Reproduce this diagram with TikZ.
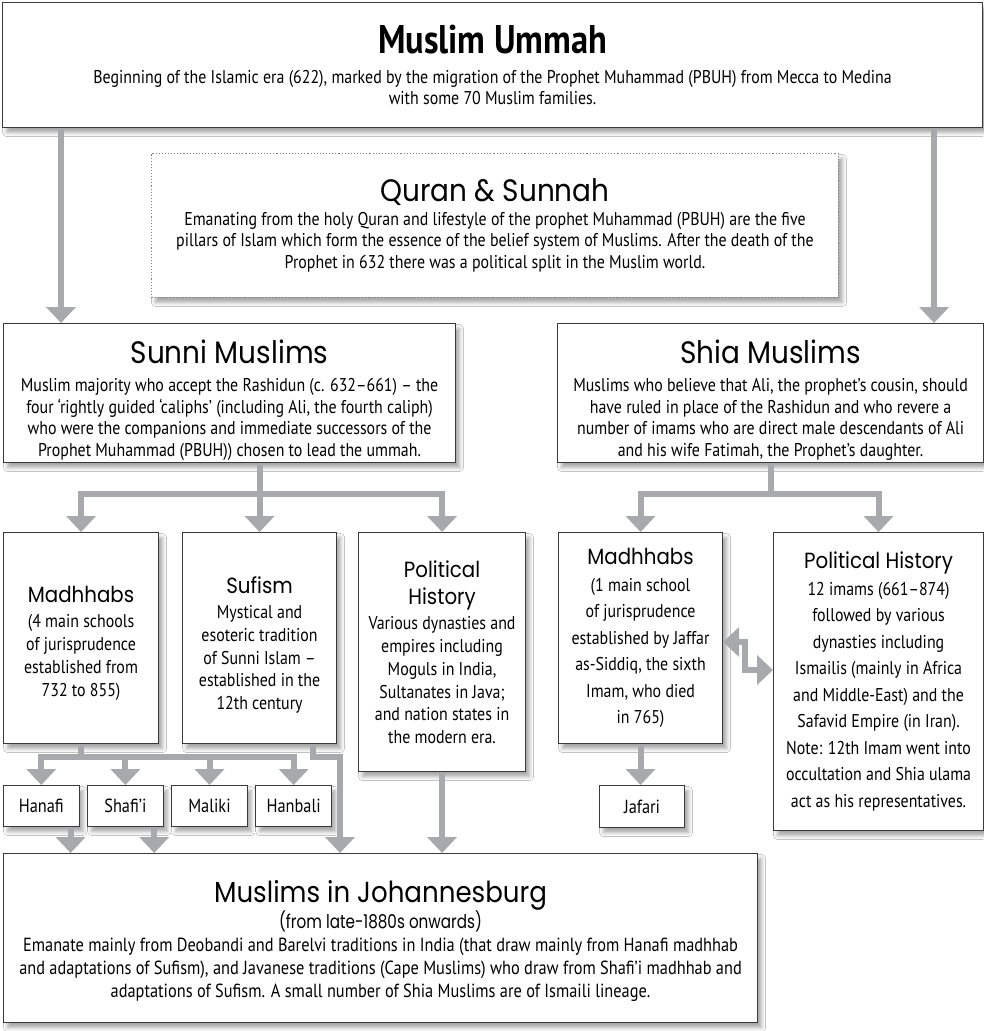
\documentclass[tikz,border=0pt]{standalone}
\usepackage{fontspec}
\setmainfont{PT Sans}[FakeStretch=0.86]
\newfontfamily\headfont{Poppins}[FakeStretch=0.9]
\newfontfamily\headnarrow{Poppins}[FakeStretch=0.8]
\usetikzlibrary{arrows.meta,positioning,calc,shadows.blur}
\definecolor{arrowgray}{HTML}{A7A9AC}
\definecolor{edgegray}{HTML}{3A3A3A}
\newcommand\bodytext{\fontsize{18.5}{21.7}\selectfont}
\newcommand\subtext{\fontsize{18.5}{22.8}\selectfont}
\newcommand\shiatext{\fontsize{18.5}{26.5}\selectfont}
\newcommand\bigtitle{\headfont\fontsize{31}{36}\selectfont}
\newcommand\subtitle{\headfont\fontsize{22}{26}\selectfont}
\newcommand\lift[1]{\rule{0pt}{#1}}

\begin{document}
\begin{tikzpicture}[x=1pt, y=-1pt,
  box/.style={draw=edgegray, line width=1.1pt, fill=white, inner sep=0pt, align=center, anchor=north west, font=\bodytext,
    blur shadow={shadow xshift=4pt, shadow yshift=-5pt, shadow blur radius=4pt, shadow opacity=35}},
  subbox/.style={box, font=\subtext},
  leaf/.style={box, font=\fontsize{19}{22}\selectfont, minimum width=75.5pt, minimum height=41pt},
  flow/.style={draw=arrowgray, line width=6pt, -{Triangle[width=29pt,length=16pt]}},
  twoway/.style={flow, {Triangle[width=29pt,length=16pt]}-{Triangle[width=29pt,length=16pt]}},
  link/.style={draw=arrowgray, line width=6pt}]
  \path[use as bounding box, fill=white] (0,0) rectangle (983,1031);

  % top row
  \node[box, minimum width=980pt, minimum height=125pt] (ummah) at (2,2)
    {{\bfseries\fontsize{40}{44}\selectfont Muslim Ummah}\\[8pt]
     Beginning of the Islamic era (622), marked by the migration of the Prophet Muhammad (PBUH) from Mecca to Medina\\
     with some 70 Muslim families.};
  \node[box, draw=gray, dotted, line width=0.9pt, minimum width=687pt, minimum height=144pt] (quran) at (151,153)
    {{\bigtitle Quran \& Sunnah}\\[2pt]
     Emanating from the holy Quran and lifestyle of the prophet Muhammad (PBUH) are the five\\
     pillars of Islam which form the essence of the belief system of Muslims. After the death of the\\
     Prophet in 632 there was a political split in the Muslim world.};

  % the split
  \node[box, minimum width=452pt, minimum height=139pt] (sunni) at (3,323)
    {\lift{38pt}{\bigtitle Sunni Muslims}\\[6pt]
     Muslim majority who accept the Rashidun (c. 632–661) – the\\
     four ‘rightly guided ‘caliphs’ (including Ali, the fourth caliph)\\
     who were the companions and immediate successors of the\\
     Prophet Muhammad (PBUH)) chosen to lead the ummah.};
  \node[box, minimum width=426pt, minimum height=139pt] (shia) at (557,323)
    {\lift{38pt}{\bigtitle Shia Muslims}\\[6pt]
     Muslims who believe that Ali, the prophet’s cousin, should\\
     have ruled in place of the Rashidun and who revere a\\
     number of imams who are direct male descendants of Ali\\
     and his wife Fatimah, the Prophet’s daughter.};

  % sunni branches
  \node[subbox, minimum width=155pt, minimum height=211pt] (smadh) at (3,532)
    {\lift{27pt}{\subtitle Madhhabs}\\[2pt] (4 main schools\\ of jurisprudence\\ established from\\ 732 to 855)};
  \node[subbox, minimum width=154pt, minimum height=211pt] (sufism) at (182,532)
    {\lift{31pt}{\subtitle Sufism}\\[2pt] Mystical and\\ esoteric tradition\\ of Sunni Islam –\\ established in the\\ 12th century};
  \node[subbox, minimum width=167pt, minimum height=239pt] (spol) at (358,532)
    {{\subtitle Political}\\[5pt] {\subtitle History}\\[2pt] Various dynasties and\\ empires including\\ Moguls in India,\\
     Sultanates in Java;\\ and nation states in\\ the modern era.};

  % shia branches
  \node[box, font=\shiatext, minimum width=164pt, minimum height=211pt] (shmadh) at (558,532)
    {{\subtitle Madhhabs}\\ (1 main school\\ of jurisprudence\\ established by Jaffar\\ as-Siddiq, the sixth\\ Imam, who died\\ in 765)};
  \node[box, font=\shiatext, minimum width=210pt, minimum height=298pt] (shpol) at (773,532)
    {{\subtitle Political History}\\ 12 imams (661–874)\\ followed by various\\ dynasties including\\
     Ismailis (mainly in Africa\\ and Middle-East) and the\\ Safavid Empire (in Iran).\\
     Note: 12th Imam went into\\ occultation and Shia ulama\\ act as his representatives.};

  % schools
  \node[leaf] (hanafi) at (3,785) {Hanafi};
  \node[leaf, right=7.5pt of hanafi] (shafii) {Shafi’i};
  \node[leaf, right=7.5pt of shafii] (maliki) {Maliki};
  \node[leaf, right=7.5pt of maliki] (hanbali) {Hanbali};
  \node[leaf, minimum width=85pt, minimum height=42pt] (jafari) at (599,785) {Jafari};

  \node[box, font=\fontsize{19}{23}\selectfont, minimum width=754pt, minimum height=169pt] (jburg) at (3,853)
    {\lift{28pt}{\headfont\fontsize{29}{34}\selectfont Muslims in Johannesburg}\\
     {\headnarrow\fontsize{19}{23}\selectfont (from late-1880s onwards)}\\
     Emanate mainly from Deobandi and Barelvi traditions in India (that draw mainly from Hanafi madhhab\\
     and adaptations of Sufism), and Javanese traditions (Cape Muslims) who draw from Shafi’i madhhab and\\
     adaptations of Sufism. A small number of Shia Muslims are of Ismaili lineage.};

  % connectors
  \path ([xshift=58pt]sunni.north west) coordinate (sunniin)
        ([xshift=-50pt]shia.north east) coordinate (shiain);
  \draw[flow] (sunniin |- ummah.south) -- (sunniin);
  \draw[flow] (shiain |- ummah.south) -- (shiain);

  \coordinate (sbar) at (0,494);
  \draw[flow] (sunni.south -| sufism.north) -- (sufism.north);
  \draw[twoway] (smadh.north) -- (smadh.north |- sbar) -- (spol.north |- sbar) -- (spol.north);
  \draw[link] (shia.south) -- (shia.south |- sbar);
  \draw[twoway] (shmadh.north) -- (shmadh.north |- sbar) -- (shpol.north |- sbar) -- (shpol.north);

  \coordinate (mbar) at (0,757);
  \draw[link] (smadh.south) -- (smadh.south |- mbar);
  \draw[twoway] (hanafi.north) -- (hanafi.north |- mbar) -- (hanbali.north |- mbar) -- (hanbali.north);
  \foreach \n in {shafii,maliki}
    \draw[flow] (\n.north |- mbar) -- (\n.north);

  \path ([xshift=-24pt]sufism.south east) coordinate (sufout)
        ([xshift=337pt]jburg.north west) coordinate (sufin)
        ([xshift=-9pt]hanafi.south east) coordinate (hanout)
        ([xshift=-9.5pt]shafii.south east) coordinate (shafout);
  \draw[flow] (sufout) -- (sufout |- mbar) -| (sufin);
  \draw[flow] (hanout) -- (hanout |- jburg.north);
  \draw[flow] (shafout) -- (shafout |- jburg.north);
  \draw[flow] (spol.south) -- (spol.south |- jburg.north);
  \draw[flow] (shmadh.south) -- (shmadh.south |- jafari.north);

  \path ([yshift=-110pt]shmadh.north east) coordinate (ja)
        ([yshift=-138pt]shpol.north west) coordinate (jb);
  \draw[twoway] (ja) -- ++(22,0) |- (jb);
\end{tikzpicture}
\end{document}
